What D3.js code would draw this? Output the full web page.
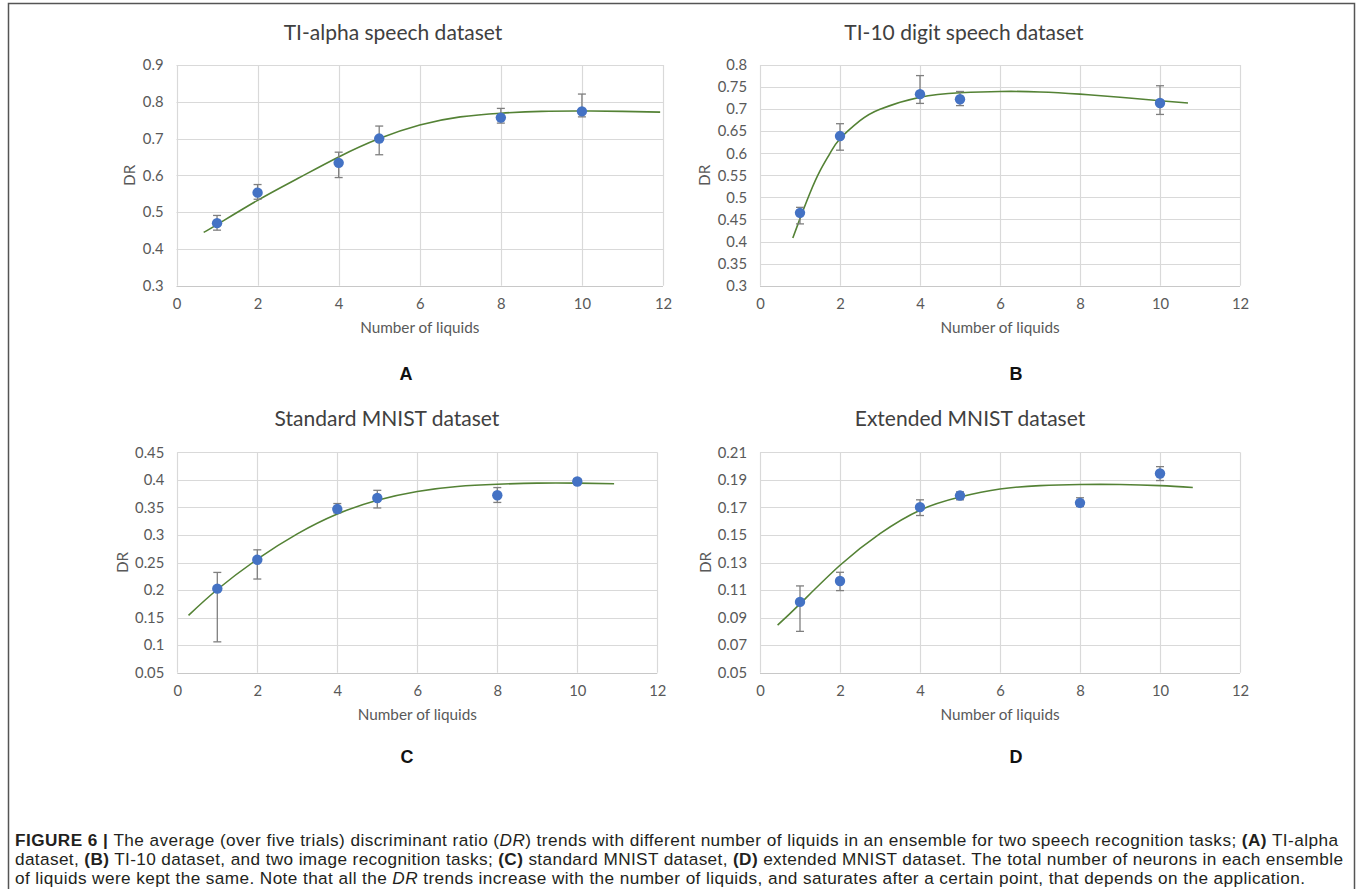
<!DOCTYPE html>
<html>
<head>
<meta charset="utf-8">
<script src="https://cdn.jsdelivr.net/npm/d3@7/dist/d3.min.js"></script>
<style>
    body { margin: 0; background: #fff; }
    svg { display: block; }
</style>
</head>
<body>
<div id="container"></div>
<script>
// begin data //

const liquids = [1, 2, 4, 5, 8, 10]
const liquidsB = [1, 2, 4, 5, 10]
const xTicks = [0, 2, 4, 6, 8, 10, 12]

// (A) TI-alpha
const alphaTitle = 'TI-alpha speech dataset'
const alphaTicks = [0.3, 0.4, 0.5, 0.6, 0.7, 0.8, 0.9]
const alphaDR = [0.470, 0.553, 0.634, 0.700, 0.757, 0.774]
const alphaHigh = [0.491, 0.575, 0.663, 0.734, 0.782, 0.821]
const alphaLow = [0.451, 0.535, 0.594, 0.656, 0.742, 0.759]
const alphaTrendX = [0.67, 1, 2, 3, 4, 5, 6, 7, 8, 9, 10, 11, 11.93]
const alphaTrendY = [0.445, 0.466, 0.532, 0.592, 0.650, 0.700, 0.737, 0.759, 0.769, 0.774, 0.775, 0.774, 0.772]

// (B) TI-10
const digitTitle = 'TI-10 digit speech dataset'
const digitTicks = [0.3, 0.35, 0.4, 0.45, 0.5, 0.55, 0.6, 0.65, 0.7, 0.75, 0.8]
const digitDR = [0.465, 0.639, 0.734, 0.7225, 0.714]
const digitHigh = [0.4775, 0.667, 0.776, 0.740, 0.753]
const digitLow = [0.440, 0.607, 0.713, 0.708, 0.688]
const digitTrendX = [0.82, 1, 1.25, 1.5, 1.75, 2, 2.5, 3, 4, 5, 6, 7, 8, 9, 10, 10.7]
const digitTrendY = [0.408, 0.452, 0.51, 0.56, 0.60, 0.633, 0.674, 0.700, 0.727, 0.737, 0.740, 0.739, 0.734, 0.727, 0.719, 0.714]

// (C) standard MNIST
const mnistTitle = 'Standard MNIST dataset'
const mnistTicks = [0.05, 0.1, 0.15, 0.2, 0.25, 0.3, 0.35, 0.4, 0.45]
const mnistDR = [0.2025, 0.255, 0.347, 0.367, 0.372, 0.397]
const mnistHigh = [0.232, 0.273, 0.357, 0.381, 0.386, 0.402]
const mnistLow = [0.106, 0.220, 0.340, 0.349, 0.359, 0.392]
const mnistTrendX = [0.28, 1, 2, 3, 4, 5, 6, 7, 8, 9, 10, 10.92]
const mnistTrendY = [0.154, 0.201, 0.256, 0.302, 0.338, 0.363, 0.379, 0.388, 0.392, 0.394, 0.394, 0.393]

// (D) extended MNIST
const extTitle = 'Extended MNIST dataset'
const extTicks = [0.05, 0.07, 0.09, 0.11, 0.13, 0.15, 0.17, 0.19, 0.21]
const extDR = [0.1014, 0.1166, 0.1702, 0.1786, 0.1733, 0.1946]
const extHigh = [0.113, 0.1229, 0.1755, 0.1813, 0.177, 0.1996]
const extLow = [0.080, 0.1096, 0.1641, 0.1755, 0.1707, 0.1895]
const extTrendX = [0.44, 1, 2, 3, 4, 5, 6, 7, 8, 9, 10, 10.82]
const extTrendY = [0.0845, 0.100, 0.128, 0.151, 0.168, 0.1775, 0.1833, 0.1858, 0.1866, 0.1866, 0.1858, 0.1845]

// end data //

const width = 1357
const height = 889

const chartFont = 'Lato, "Open Sans", sans-serif'
const captionFont = '"Liberation Sans", Arial, sans-serif'

const svg = d3
    .select('#container')
    .append('svg')
    .attr('width', width)
    .attr('height', height)

// frame round the figure
svg.append('path')
    .attr('d', `M8.5,${height} V3.5 H1354.5 V${height}`)
    .attr('fill', 'none')
    .attr('stroke', '#555')
    .attr('stroke-width', 1.5)

function drawPanel(cfg) {
    const g = svg.append('g')

    const x = d3.scaleLinear().domain([0, 12]).range([cfg.left, cfg.right])
    const y = d3.scaleLinear().domain(d3.extent(cfg.ticks)).range([cfg.bottom, cfg.top])

    // gridlines
    g.selectAll('line.hgrid')
        .data(cfg.ticks)
        .join('line')
        .attr('class', 'hgrid')
        .attr('x1', cfg.left)
        .attr('x2', cfg.right)
        .attr('y1', (d) => Math.round(y(d)) + 0.5)
        .attr('y2', (d) => Math.round(y(d)) + 0.5)
        .attr('stroke', (d, i) => (i === 0 ? '#c8c8c8' : '#d9d9d9'))
        .attr('stroke-width', 1.2)

    g.selectAll('line.vgrid')
        .data(xTicks)
        .join('line')
        .attr('class', 'vgrid')
        .attr('x1', (d) => Math.round(x(d)) + 0.5)
        .attr('x2', (d) => Math.round(x(d)) + 0.5)
        .attr('y1', cfg.top)
        .attr('y2', cfg.bottom)
        .attr('stroke', '#d9d9d9')
        .attr('stroke-width', 1.2)

    // axes (labels only, lines come from the grid)
    const yAxis = g.append('g')
        .attr('transform', `translate(${cfg.left - 13},0)`)
        .call(d3.axisLeft(y).tickValues(cfg.ticks).tickFormat(d3.format('~g')).tickSize(0).tickPadding(0))
    const xAxis = g.append('g')
        .attr('transform', `translate(0,${cfg.bottom + 13})`)
        .call(d3.axisBottom(x).tickValues(xTicks).tickSize(0).tickPadding(0))
    ;[yAxis, xAxis].forEach((a) => {
        a.select('.domain').remove()
        a.selectAll('text')
            .attr('font-family', chartFont)
            .attr('font-size', 14.8)
            .attr('fill', '#595959')
    })

    // trend line
    const trend = cfg.trendX.map((v, i) => [v, cfg.trendY[i]])
    g.append('path')
        .datum(trend)
        .attr('d', d3.line().x((d) => x(d[0])).y((d) => y(d[1])).curve(d3.curveNatural))
        .attr('fill', 'none')
        .attr('stroke', '#548235')
        .attr('stroke-width', 1.6)

    // error bars
    const pts = cfg.xs.map((v, i) => ({ x: v, dr: cfg.dr[i], hi: cfg.hi[i], lo: cfg.lo[i] }))
    const bars = g.selectAll('g.err').data(pts).join('g').attr('class', 'err')
        .attr('stroke', '#7f7f7f')
        .attr('stroke-width', 1.3)
    bars.append('line')
        .attr('x1', (d) => x(d.x)).attr('x2', (d) => x(d.x))
        .attr('y1', (d) => y(d.hi)).attr('y2', (d) => y(d.lo))
    bars.append('line')
        .attr('x1', (d) => x(d.x) - 4).attr('x2', (d) => x(d.x) + 4)
        .attr('y1', (d) => y(d.hi)).attr('y2', (d) => y(d.hi))
    bars.append('line')
        .attr('x1', (d) => x(d.x) - 4).attr('x2', (d) => x(d.x) + 4)
        .attr('y1', (d) => y(d.lo)).attr('y2', (d) => y(d.lo))

    // markers
    g.selectAll('circle')
        .data(pts)
        .join('circle')
        .attr('cx', (d) => x(d.x))
        .attr('cy', (d) => y(d.dr))
        .attr('r', 5.2)
        .attr('fill', '#4472c4')

    // titles
    g.append('text')
        .attr('x', cfg.titleX)
        .attr('y', cfg.titleY)
        .attr('text-anchor', 'middle')
        .attr('font-family', chartFont)
        .attr('font-size', 21)
        .attr('fill', '#404040')
        .text(cfg.title)

    g.append('text')
        .attr('x', (cfg.left + cfg.right) / 2)
        .attr('y', cfg.bottom + 47)
        .attr('text-anchor', 'middle')
        .attr('font-family', chartFont)
        .attr('font-size', 15.3)
        .attr('fill', '#595959')
        .text('Number of liquids')

    g.append('text')
        .attr('transform', `translate(${cfg.drX},${(cfg.top + cfg.bottom) / 2}) rotate(-90)`)
        .attr('text-anchor', 'middle')
        .attr('dy', '0.35em')
        .attr('font-family', chartFont)
        .attr('font-size', 15.3)
        .attr('fill', '#595959')
        .text('DR')

    g.append('text')
        .attr('x', cfg.letterX)
        .attr('y', cfg.letterY)
        .attr('text-anchor', 'middle')
        .attr('font-family', captionFont)
        .attr('font-weight', 'bold')
        .attr('font-size', 18)
        .attr('fill', '#111')
        .text(cfg.letter)
}

drawPanel({
    left: 176.5, right: 663, top: 65, bottom: 285.7,
    ticks: alphaTicks, xs: liquids, dr: alphaDR, hi: alphaHigh, lo: alphaLow,
    trendX: alphaTrendX, trendY: alphaTrendY,
    title: alphaTitle, titleX: 393, titleY: 40, drX: 130,
    letter: 'A', letterX: 406, letterY: 380
})

drawPanel({
    left: 760, right: 1240, top: 65, bottom: 285.7,
    ticks: digitTicks, xs: liquidsB, dr: digitDR, hi: digitHigh, lo: digitLow,
    trendX: digitTrendX, trendY: digitTrendY,
    title: digitTitle, titleX: 964, titleY: 40, drX: 705,
    letter: 'B', letterX: 1016, letterY: 380
})

drawPanel({
    left: 177.3, right: 657.3, top: 452.3, bottom: 672.7,
    ticks: mnistTicks, xs: liquids, dr: mnistDR, hi: mnistHigh, lo: mnistLow,
    trendX: mnistTrendX, trendY: mnistTrendY,
    title: mnistTitle, titleX: 387, titleY: 426, drX: 123,
    letter: 'C', letterX: 407, letterY: 763
})

drawPanel({
    left: 760, right: 1240, top: 452.3, bottom: 672.7,
    ticks: extTicks, xs: liquids, dr: extDR, hi: extHigh, lo: extLow,
    trendX: extTrendX, trendY: extTrendY,
    title: extTitle, titleX: 970, titleY: 426, drX: 706,
    letter: 'D', letterX: 1016, letterY: 763
})

// caption
const captionLines = [
    [['FIGURE 6 | ', 'b'], ['The average (over five trials) discriminant ratio (', ''], ['DR', 'i'], [') trends with different number of liquids in an ensemble for two speech recognition tasks; ', ''], ['(A)', 'b'], [' TI-alpha', '']],
    [['dataset, ', ''], ['(B)', 'b'], [' TI-10 dataset, and two image recognition tasks; ', ''], ['(C)', 'b'], [' standard MNIST dataset, ', ''], ['(D)', 'b'], [' extended MNIST dataset. The total number of neurons in each ensemble', '']],
    [['of liquids were kept the same. Note that all the ', ''], ['DR', 'i'], [' trends increase with the number of liquids, and saturates after a certain point, that depends on the application.', '']]
]
const captionWidths = [1323, 1328, 1290]

const caption = svg.append('g')
    .attr('font-family', captionFont)
    .attr('font-size', 17.2)
    .attr('fill', '#231f20')

captionLines.forEach((parts, i) => {
    const t = caption.append('text')
        .attr('x', 15)
        .attr('y', 846 + i * 19)
        .attr('xml:space', 'preserve')
        .attr('textLength', captionWidths[i])
        .attr('lengthAdjust', 'spacing')
    parts.forEach(([s, style]) => {
        t.append('tspan')
            .attr('font-weight', style === 'b' ? 'bold' : null)
            .attr('font-style', style === 'i' ? 'italic' : null)
            .text(s)
    })
})
</script>
</body>
</html>
